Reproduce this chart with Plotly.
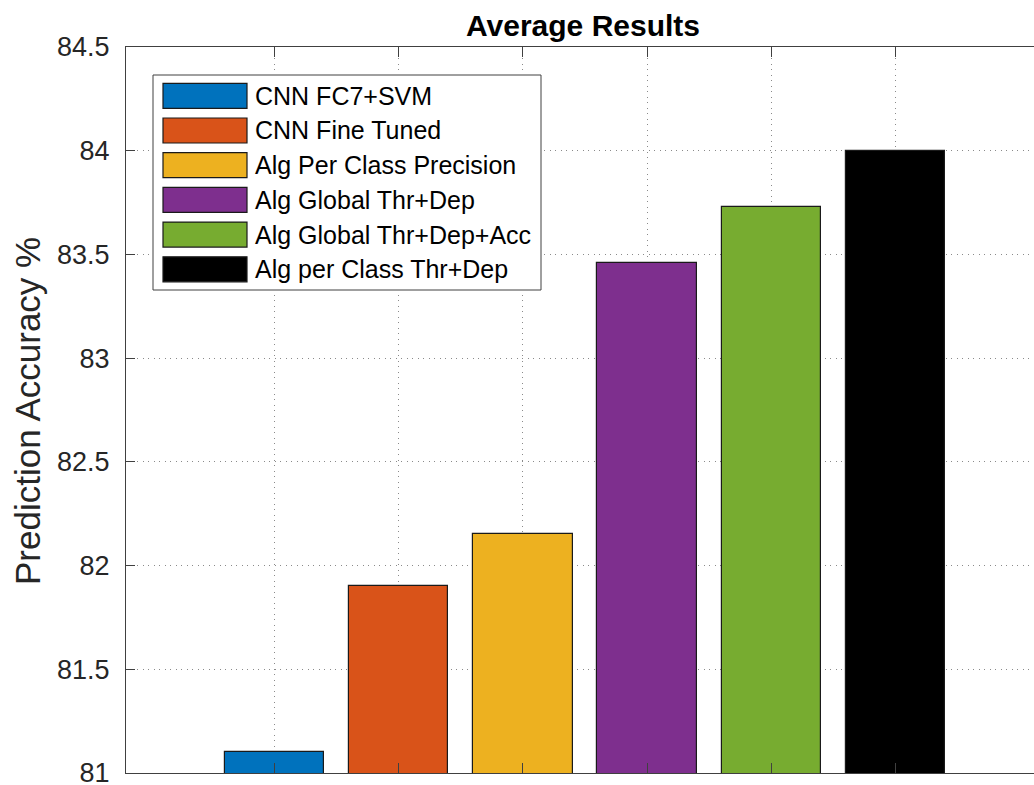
import plotly.graph_objects as go

# Average prediction accuracy (%) for each method
methods = [
    "CNN FC7+SVM",
    "CNN Fine Tuned",
    "Alg Per Class Precision",
    "Alg Global Thr+Dep",
    "Alg Global Thr+Dep+Acc",
    "Alg per Class Thr+Dep",
]
accuracy = [81.10, 81.90, 82.15, 83.46, 83.73, 84.00]
colors = ["#0072BD", "#D95319", "#EDB120", "#7E2F8E", "#77AC30", "#000000"]
y_ticks = [81, 81.5, 82, 82.5, 83, 83.5, 84, 84.5]

positions = list(range(1, len(methods) + 1))

W, H = 1034, 785
L, R, T, B = 126, 0, 47, 12
plot_w = W - L - R
plot_h = H - T - B

FONT = "Liberation Sans, Arial, Helvetica, sans-serif"
AXIS_COLOR = "#404040"
TEXT_COLOR = "#262626"


def px_x(px):
    return (px - L) / plot_w


def px_y(py):
    return (H - B - py) / plot_h


fig = go.Figure()
fig.add_trace(go.Bar(
    x=positions,
    y=accuracy,
    width=0.8,
    marker=dict(color=colors, line=dict(color="#1a1a1a", width=1.2)),
    showlegend=False,
    hoverinfo="y",
))

fig.update_layout(
    width=W,
    height=H,
    margin=dict(l=L, r=R, t=T, b=B, pad=0, autoexpand=False),
    paper_bgcolor="white",
    plot_bgcolor="white",
    font=dict(family=FONT, color=TEXT_COLOR),
    title=dict(
        text="<b>Average Results</b>",
        font=dict(family=FONT, size=30, color="#000000"),
        x=px_x(583), xref="paper", xanchor="center",
        y=1 - 25 / H, yref="container", yanchor="middle",
    ),
    bargap=0,
)

fig.update_xaxes(
    range=[-0.1957, 7.115],
    tickvals=positions,
    showticklabels=False,
    ticks="inside",
    ticklen=10,
    tickcolor=AXIS_COLOR,
    tickwidth=1,
    showline=True,
    linecolor=AXIS_COLOR,
    linewidth=1,
    mirror="ticks",
    showgrid=True,
    gridcolor="#8a8a8a",
    gridwidth=1,
    griddash="1px,4.5px",
    zeroline=False,
    automargin=False,
    fixedrange=True,
)

fig.update_yaxes(
    range=[81, 84.5],
    tickvals=y_ticks,
    ticktext=[f"{v:g}" for v in y_ticks],
    ticks="inside",
    ticklen=9,
    tickcolor=AXIS_COLOR,
    tickwidth=1,
    tickfont=dict(family=FONT, size=27, color=TEXT_COLOR),
    ticklabelstandoff=10,
    ticklabeloverflow="allow",
    showline=True,
    linecolor=AXIS_COLOR,
    linewidth=1,
    mirror=False,
    showgrid=True,
    gridcolor="#8a8a8a",
    gridwidth=1,
    griddash="1px,4.5px",
    zeroline=False,
    automargin=False,
    fixedrange=True,
)

# Y axis title
fig.add_annotation(
    text="Prediction Accuracy %",
    xref="paper", yref="paper",
    x=px_x(28), y=px_y(411),
    xanchor="center", yanchor="middle",
    textangle=-90,
    showarrow=False,
    font=dict(family=FONT, size=35, color=TEXT_COLOR),
)

# Legend box with large colour swatches
box_x0, box_x1, box_y0, box_y1 = 153, 541, 75, 290
fig.add_shape(
    type="rect", xref="paper", yref="paper",
    x0=px_x(box_x0), x1=px_x(box_x1), y0=px_y(box_y1), y1=px_y(box_y0),
    line=dict(color=AXIS_COLOR, width=1), fillcolor="white", layer="above",
)
sw_x0, sw_x1 = 163, 247
row_top, row_step, sw_h = 83.3, 34.7, 25
for i, (name, col) in enumerate(zip(methods, colors)):
    top = row_top + i * row_step
    fig.add_shape(
        type="rect", xref="paper", yref="paper",
        x0=px_x(sw_x0), x1=px_x(sw_x1), y0=px_y(top + sw_h), y1=px_y(top),
        line=dict(color="#1a1a1a", width=1.2), fillcolor=col, layer="above",
    )
    fig.add_annotation(
        text=name,
        xref="paper", yref="paper",
        x=px_x(253), y=px_y(top + sw_h / 2),
        xanchor="left", yanchor="middle",
        showarrow=False,
        font=dict(family=FONT, size=25, color="#000000"),
    )

fig.write_html("out.html")
